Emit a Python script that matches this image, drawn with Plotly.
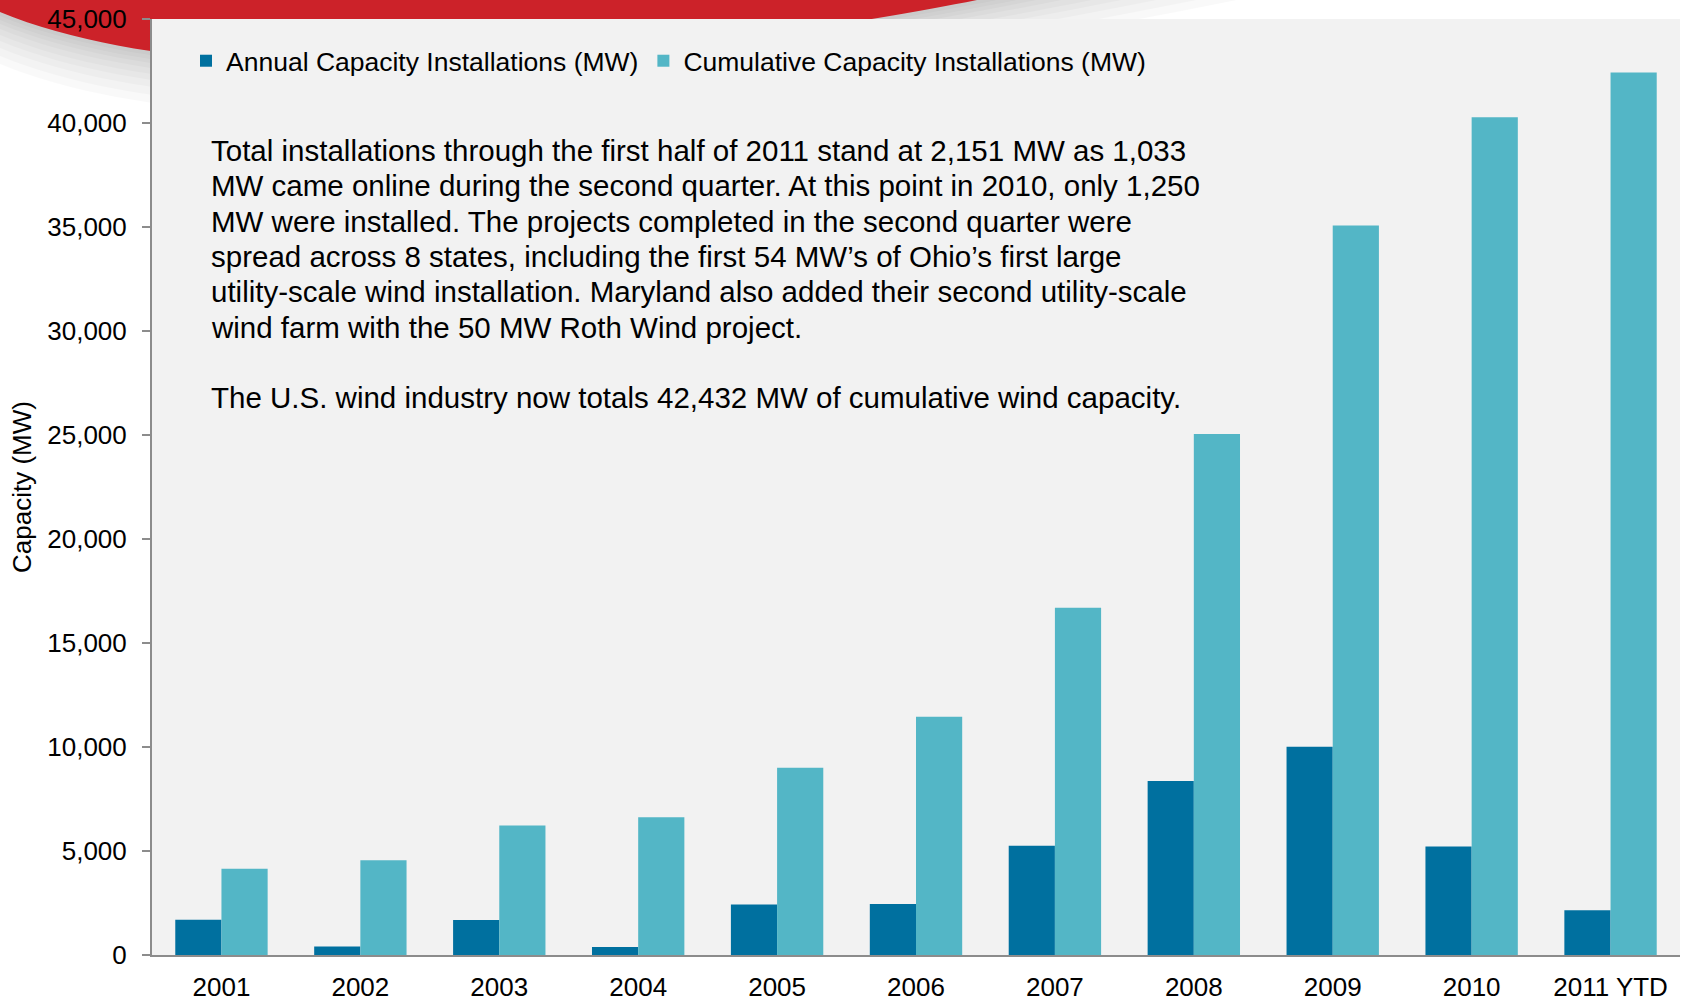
import plotly.graph_objects as go

categories = ["2001", "2002", "2003", "2004", "2005", "2006", "2007", "2008", "2009", "2010", "2011 YTD"]
annual_mw = [1696, 410, 1687, 389, 2431, 2454, 5249, 8366, 10010, 5212, 2151]
cumulative_mw = [4150, 4560, 6220, 6620, 9000, 11450, 16700, 25050, 35070, 40280, 42432]
y_ticks = [0, 5000, 10000, 15000, 20000, 25000, 30000, 35000, 40000, 45000]

note_lines = [
    "Total installations through the first half of 2011 stand at 2,151 MW as 1,033",
    "MW came online during the second quarter. At this point in 2010, only 1,250",
    "MW were installed. The projects completed in the second quarter were",
    "spread across 8 states, including the first 54 MW\u2019s of Ohio\u2019s first large",
    "utility-scale wind installation. Maryland also added their second utility-scale",
    "wind farm with the 50 MW Roth Wind project.",
    "",
    "The U.S. wind industry now totals 42,432 MW of cumulative wind capacity.",
]

W, H = 1687, 1002
ML, MR, MT, MB = 152, 7, 19, 47
PW, PH = W - ML - MR, H - MT - MB

def px(x):
    return (x - ML) / PW

def py(y):
    return (H - MB - y) / PH

FONT = "Liberation Sans, Arial, sans-serif"

fig = go.Figure()
fig.add_trace(go.Bar(name="Annual Capacity Installations (MW)", x=categories, y=annual_mw,
                     marker=dict(color="#00709f", line=dict(width=0))))
fig.add_trace(go.Bar(name="Cumulative Capacity Installations (MW)", x=categories, y=cumulative_mw,
                     marker=dict(color="#53b6c6", line=dict(width=0))))

def P(x, y):
    return f"{px(x):.5f},{py(y):.5f}"

def swoosh(dy, xs):
    return (f"M {P(0, 0)} L {P(0, 12 + dy)} C {P(250, 115 + dy)} {P(750, 45 + dy)} "
            f"{P(977 + xs, 0)} Z")

shapes = []
for dy in [52, 44, 36, 29, 23, 17, 12, 8, 4]:
    shapes.append(dict(type="path", xref="paper", yref="paper", path=swoosh(dy, dy * 5),
                       fillcolor="rgba(0,0,0,0.024)", line=dict(width=0), layer="below"))
shapes.append(dict(type="path", xref="paper", yref="paper", path=swoosh(0, 0),
                   fillcolor="#cc2229", line=dict(width=0), layer="below"))
shapes.append(dict(type="rect", xref="paper", yref="paper", x0=0, x1=1, y0=0, y1=1,
                   fillcolor="#f2f2f2", line=dict(width=0), layer="below"))

line_y0, line_step = 150.6, 35.3
for i, ln in enumerate(note_lines):
    if not ln:
        continue
    fig.add_annotation(x=px(209), y=py(line_y0 + i * line_step), xref="paper", yref="paper",
                       xanchor="left", yanchor="middle", align="left", showarrow=False, text=ln,
                       font=dict(family=FONT, size=29.5, color="#000000"))

fig.update_layout(
    width=W, height=H,
    margin=dict(l=ML, r=MR, t=MT, b=MB, autoexpand=False),
    paper_bgcolor="white", plot_bgcolor="rgba(0,0,0,0)",
    barmode="group", bargap=0.335, bargroupgap=0,
    font=dict(family=FONT, size=26, color="#000000"),
    shapes=shapes,
    showlegend=True,
    legend=dict(orientation="h", x=px(186), y=py(61), xanchor="left", yanchor="middle",
                bgcolor="rgba(0,0,0,0)", font=dict(family=FONT, size=26.5, color="#000000"),
                traceorder="normal", itemclick=False),
    xaxis=dict(type="category", showline=True, linecolor="#8c8c8c", linewidth=2,
               ticks="", showgrid=False, zeroline=False, ticklabelstandoff=8,
               tickfont=dict(family=FONT, size=26, color="#000000"), range=[-0.5, 10.5]),
    yaxis=dict(range=[0, 45000], tickvals=y_ticks, tickformat=",d", showline=True,
               linecolor="#8c8c8c", linewidth=2, ticks="outside", ticklen=8, tickcolor="#8c8c8c",
               tickwidth=2, showgrid=False, zeroline=False, ticklabelstandoff=10,
               tickfont=dict(family=FONT, size=26, color="#000000"),
               title=dict(text="Capacity (MW)", standoff=8,
                          font=dict(family=FONT, size=26, color="#000000"))),
)

fig.write_html("out.html", config={"displayModeBar": False},
               post_script="document.body.style.margin='0';document.body.style.overflow='hidden';")
